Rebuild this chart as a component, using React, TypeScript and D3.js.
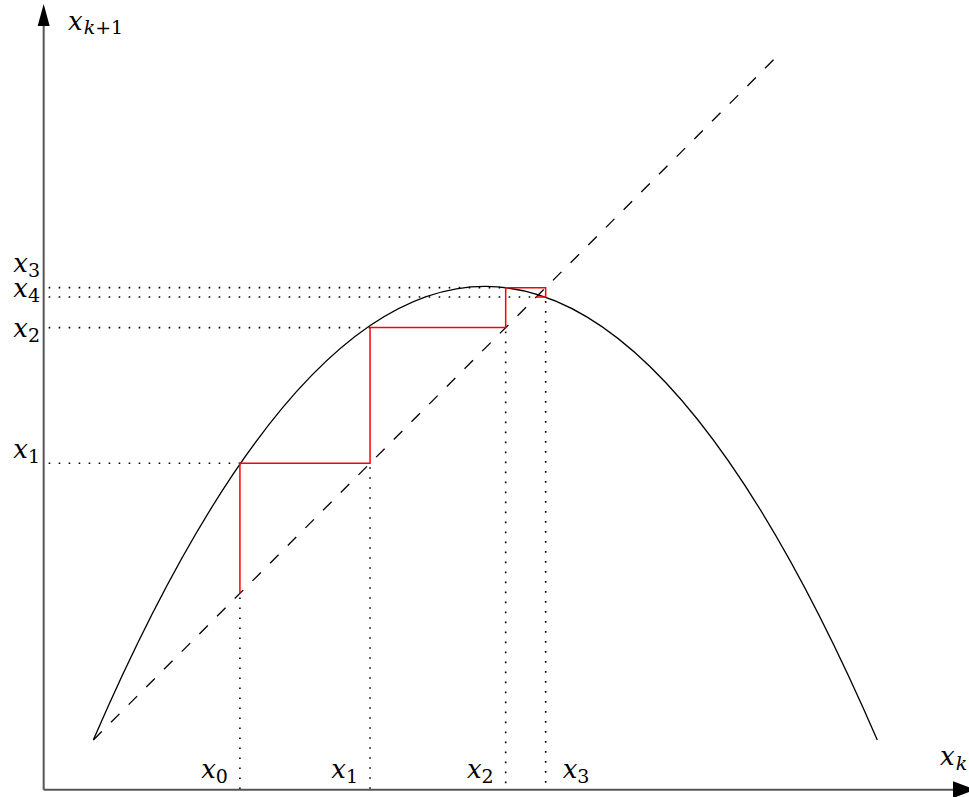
import React from "react";
import * as d3 from "d3";

// ---- data (unit square of the map) ----
const ITERATES = [0.187, 0.353, 0.526, 0.577, 0.565]; // x0..x4
const CURVE_X = [0, 0.5, 1];          // start, vertex, end of the parabola
const CURVE_Y = [0, 0.5785, 0];
const DIAG_X = [0, 0.874];            // dashed line y = x
const AXIS_AT = -0.0633;              // where the axes sit in data units
const BOTTOM_LABELS = ["0", "1", "2", "3"];
const LEFT_LABELS = ["1", "2", "3", "4"];

const W = 969;
const H = 797;

export default function App() {
  const x = d3.scaleLinear().domain([0, 1]).range([93.3, 877.3]);
  const y = d3.scaleLinear().domain([0, 1]).range([740, -44]);

  const ax = x(AXIS_AT);
  const ay = y(AXIS_AT);

  // parabola as exact quadratic Bezier through its vertex
  const p = d3.path();
  p.moveTo(x(CURVE_X[0]), y(CURVE_Y[0]));
  p.quadraticCurveTo(x(CURVE_X[1]), y(2 * CURVE_Y[1]), x(CURVE_X[2]), y(CURVE_Y[2]));

  // cobweb
  const web: [number, number][] = [[ITERATES[0], ITERATES[0]]];
  for (let i = 0; i < ITERATES.length - 1; i++) {
    web.push([ITERATES[i], ITERATES[i + 1]]);
    web.push([ITERATES[i + 1], ITERATES[i + 1]]);
  }
  const line = d3
    .line<[number, number]>()
    .x((d) => x(d[0]))
    .y((d) => y(d[1]));

  const textStyle: React.CSSProperties = {
    fontFamily: "'DejaVu Serif', serif",
    fontSize: "26px",
  };
  const subStyle: React.CSSProperties = { fontSize: "19px" };
  const leftDy = [-5, 9, -16, 0];

  const dotted = { stroke: "#000", strokeWidth: 1.6, strokeDasharray: "1.6 8.4", fill: "none" };

  return (
    <svg
      width={W}
      height={H}
      viewBox={`0 0 ${W} ${H}`}
      style={{ position: "absolute", left: 0, top: 0, background: "#fff" }}
    >
      {/* dotted guides: horizontals */}
      {ITERATES.slice(1).map((v, i) => (
        <line
          key={"h" + i}
          x1={ax + 5}
          x2={x(Math.min(ITERATES[i], v))}
          y1={y(v)}
          y2={y(v)}
          {...dotted}
        />
      ))}
      {/* dotted guides: verticals */}
      {ITERATES.slice(0, 4).map((v, i) => (
        <line
          key={"v" + i}
          x1={x(v)}
          x2={x(v)}
          y1={y(Math.min(v, ITERATES[i + 1])) + 4}
          y2={ay}
          {...dotted}
        />
      ))}

      {/* diagonal */}
      <line
        x1={x(DIAG_X[0])}
        y1={y(DIAG_X[0])}
        x2={x(DIAG_X[1])}
        y2={y(DIAG_X[1])}
        stroke="#000"
        strokeWidth={1.3}
        strokeDasharray="12 13"
      />

      {/* parabola */}
      <path d={p.toString()} fill="none" stroke="#000" strokeWidth={1.3} />

      {/* cobweb */}
      <path d={line(web) || ""} fill="none" stroke="#ff0000" strokeWidth={1.5} />

      {/* axes */}
      <line x1={ax} y1={ay} x2={ax} y2={24} stroke="#555" strokeWidth={2} />
      <line x1={ax} y1={ay} x2={955} y2={ay} stroke="#555" strokeWidth={2} />
      <path d={`M${ax},4 L${ax - 6},26 L${ax + 6},26 Z`} fill="#000" />
      <path d={`M975,${ay} L953,${ay - 8.5} L953,${ay + 8.5} Z`} fill="#000" />

      {/* axis titles */}
      <text x={68} y={30} style={textStyle} fill="#000">
        <tspan fontStyle="italic">x</tspan>
        <tspan style={subStyle} dy={4} dx={1}>
          <tspan fontStyle="italic">k</tspan>+1
        </tspan>
      </text>
      <text x={940} y={765} style={textStyle} fill="#000">
        <tspan fontStyle="italic">x</tspan>
        <tspan style={subStyle} dy={5} dx={1} fontStyle="italic">
          k
        </tspan>
      </text>

      {/* bottom labels */}
      {BOTTOM_LABELS.map((s, i) => {
        const last = i === BOTTOM_LABELS.length - 1;
        return (
          <text
            key={"b" + s}
            x={last ? x(ITERATES[i]) + 17 : x(ITERATES[i]) - 12}
            y={778}
            textAnchor={last ? "start" : "end"}
            style={textStyle}
            fill="#000"
          >
            <tspan fontStyle="italic">x</tspan>
            <tspan style={subStyle} dy={5} dx={0}>
              {s}
            </tspan>
          </text>
        );
      })}

      {/* left labels */}
      {LEFT_LABELS.map((s, i) => (
        <text
          key={"l" + s}
          x={40}
          y={y(ITERATES[i + 1]) + leftDy[i]}
          textAnchor="end"
          style={textStyle}
          fill="#000"
        >
          <tspan fontStyle="italic">x</tspan>
          <tspan style={subStyle} dy={5} dx={0}>
            {s}
          </tspan>
        </text>
      ))}
    </svg>
  );
}
